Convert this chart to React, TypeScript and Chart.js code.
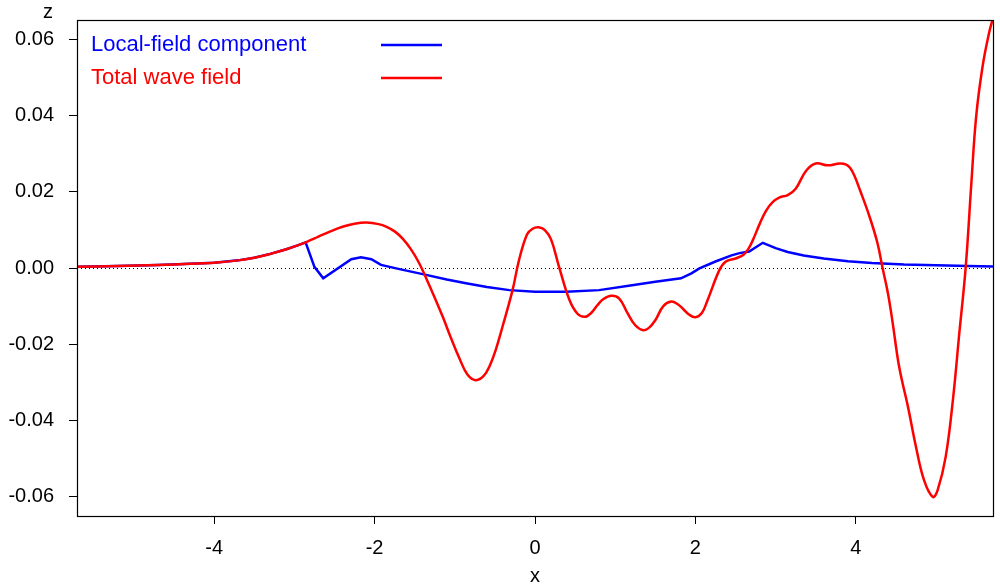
import React, { useEffect, useRef } from "react";
import { Chart, registerables } from "chart.js";

Chart.register(...registerables);

const xTicks = [-4, -2, 0, 2, 4];
const yTicks = [-0.06, -0.04, -0.02, 0, 0.02, 0.04, 0.06];

const seriesLabels = ["Local-field component", "Total wave field"];
const seriesColors = ["#0000ff", "#ff0000"];

const redX = [
  -5.71, -5.2, -4.7, -4.3, -4.0, -3.7, -3.5, -3.3, -3.1, -2.95, -2.85, -2.7, -2.55, -2.4, -2.25, -2.1,
  -1.95, -1.85, -1.75, -1.65, -1.55, -1.45, -1.35, -1.25, -1.15, -1.05, -0.94, -0.84, -0.74, -0.64,
  -0.56, -0.49, -0.4, -0.28, -0.2, -0.1, -0.03, 0.045, 0.12, 0.2, 0.3, 0.43, 0.53, 0.62, 0.7, 0.78,
  0.85, 0.95, 1.05, 1.15, 1.25, 1.35, 1.42, 1.5, 1.6, 1.7, 1.78, 1.85, 1.92, 2.0, 2.08, 2.15, 2.3, 2.38,
  2.5, 2.6, 2.66, 2.72, 2.8, 2.88, 2.96, 3.05, 3.15, 3.25, 3.38, 3.5, 3.65, 3.8, 3.88, 3.93, 3.98, 4.05,
  4.17, 4.27, 4.33, 4.4, 4.46, 4.54, 4.65, 4.75, 4.85, 4.96, 5.02, 5.12, 5.21, 5.29, 5.37, 5.44, 5.5,
  5.58, 5.66, 5.71,
];
const redY = [
  0.0003, 0.0005, 0.0008, 0.0011, 0.0014, 0.002, 0.0027, 0.0037, 0.0049, 0.006, 0.0068, 0.0082, 0.0096,
  0.0108, 0.0116, 0.0119, 0.0115, 0.0108, 0.0096, 0.0077, 0.005, 0.0015, -0.003, -0.0078, -0.0128,
  -0.0182, -0.0238, -0.028, -0.0294, -0.0283, -0.0254, -0.0215, -0.015, -0.0058, 0.002, 0.0088, 0.0103,
  0.0107, 0.01, 0.0075, 0.0003, -0.0084, -0.012, -0.0128, -0.0118, -0.0097, -0.0082, -0.0073, -0.008,
  -0.0117, -0.015, -0.0163, -0.0157, -0.0137, -0.01, -0.0088, -0.0095, -0.0108, -0.0122, -0.0129,
  -0.0118, -0.0085, -0.0005, 0.0017, 0.0025, 0.0035, 0.005, 0.0075, 0.0115, 0.015, 0.0172, 0.0185,
  0.0191, 0.0208, 0.0255, 0.0274, 0.0269, 0.0274, 0.0271, 0.0262, 0.0243, 0.0205, 0.0135, 0.0065, 0.0003,
  -0.0066, -0.0145, -0.0259, -0.0364, -0.0469, -0.0556, -0.06, -0.0582, -0.0495, -0.0346, -0.0171,
  0.0003, 0.0222, 0.0397, 0.0528, 0.0615, 0.0655,
];

const blueX = [
  -5.71, -5.2, -4.7, -4.3, -4.0, -3.7, -3.5, -3.3, -3.1, -2.95, -2.86, -2.75, -2.64, -2.29, -2.17, -2.04,
  -1.92, -1.69, -1.4, -1.1, -0.86, -0.6, -0.32, 0.0, 0.39, 0.8, 1.21, 1.5, 1.82, 1.95, 2.05, 2.25, 2.45,
  2.55, 2.67, 2.84, 3.0, 3.15, 3.35, 3.6, 3.9, 4.2, 4.6, 5.0, 5.4, 5.71,
];
const blueY = [
  0.0003, 0.0005, 0.0008, 0.0011, 0.0014, 0.002, 0.0027, 0.0037, 0.0049, 0.006, 0.0067, 0.0003, -0.0027,
  0.0023, 0.0028, 0.0023, 0.0008, -0.0003, -0.0016, -0.003, -0.004, -0.005, -0.0058, -0.0062, -0.0062,
  -0.0058, -0.0045, -0.0036, -0.0027, -0.0014, -0.0001, 0.0017, 0.0033, 0.0039, 0.0043, 0.0066, 0.0052,
  0.0042, 0.0033, 0.0025, 0.0018, 0.0013, 0.0009, 0.0007, 0.0005, 0.0004,
];

const FONT = "'Liberation Sans', Arial, Helvetica, sans-serif";

const decorPlugin = {
  id: "decor",
  beforeDatasetsDraw(chart: any) {
    const { ctx, chartArea: a, scales } = chart;
    const y0 = Math.round(scales.y.getPixelForValue(0)) + 0.5;
    ctx.save();
    ctx.strokeStyle = "#000";
    ctx.lineWidth = 1;
    ctx.setLineDash([1, 3]);
    ctx.beginPath();
    ctx.moveTo(a.left, y0);
    ctx.lineTo(a.right, y0);
    ctx.stroke();
    ctx.restore();
  },
  afterDatasetsDraw(chart: any) {
    const { ctx, chartArea: a } = chart;
    ctx.save();
    ctx.strokeStyle = "#000";
    ctx.lineWidth = 1.2;
    ctx.strokeRect(a.left + 0.5, a.top + 0.5, a.right - a.left, a.bottom - a.top);
    ctx.font = `22px ${FONT}`;
    ctx.textBaseline = "middle";
    ctx.textAlign = "left";
    const rows = [45, 78];
    seriesLabels.forEach((lab, i) => {
      ctx.fillStyle = seriesColors[i];
      ctx.fillText(lab, 91, rows[i]);
      ctx.strokeStyle = seriesColors[i];
      ctx.lineWidth = 2.5;
      ctx.beginPath();
      ctx.moveTo(381, rows[i]);
      ctx.lineTo(442, rows[i]);
      ctx.stroke();
    });
    ctx.fillStyle = "#000";
    ctx.font = `20px ${FONT}`;
    ctx.textAlign = "center";
    ctx.fillText("z", 48, 12);
    ctx.fillText("x", (a.left + a.right) / 2, 576);
    ctx.restore();
  },
};

export default function App() {
  const ref = useRef<HTMLCanvasElement>(null);
  useEffect(() => {
    if (!ref.current) return;
    const chart = new Chart(ref.current, {
      type: "line",
      data: {
        datasets: [
          {
            label: seriesLabels[0],
            data: blueX.map((x, i) => ({ x, y: blueY[i] })),
            borderColor: seriesColors[0],
            borderWidth: 2.5,
            pointRadius: 0,
            tension: 0,
            fill: false,
            order: 1,
          },
          {
            label: seriesLabels[1],
            data: redX.map((x, i) => ({ x, y: redY[i] })),
            borderColor: seriesColors[1],
            borderWidth: 2.5,
            pointRadius: 0,
            tension: 0.4,
            fill: false,
            order: 0,
          },
        ],
      },
      options: {
        animation: false,
        responsive: false,
        maintainAspectRatio: false,
        layout: { padding: { top: 20, right: 7, left: 0, bottom: 0 } },
        plugins: { legend: { display: false }, tooltip: { enabled: false } },
        scales: {
          x: {
            type: "linear",
            min: -5.71,
            max: 5.71,
            afterBuildTicks: (s: any) => {
              s.ticks = xTicks.map((v) => ({ value: v }));
            },
            afterFit: (s: any) => {
              s.height = 71;
              s.paddingLeft = 0;
              s.paddingRight = 0;
            },
            grid: { drawOnChartArea: false, drawTicks: true, tickLength: 8, color: "#000", lineWidth: 1 },
            border: { display: false },
            ticks: {
              color: "#000",
              font: { family: FONT, size: 20 },
              padding: 12,
              maxRotation: 0,
              callback: (v: any) => String(v),
            },
          },
          y: {
            type: "linear",
            min: -0.065,
            max: 0.065,
            afterBuildTicks: (s: any) => {
              s.ticks = yTicks.map((v) => ({ value: v }));
            },
            afterFit: (s: any) => {
              s.width = 77;
              s.paddingTop = 0;
              s.paddingBottom = 0;
            },
            grid: { drawOnChartArea: false, drawTicks: true, tickLength: 8, color: "#000", lineWidth: 1 },
            border: { display: false },
            ticks: {
              color: "#000",
              font: { family: FONT, size: 20 },
              padding: 15,
              callback: (v: any) => Number(v).toFixed(2),
            },
          },
        },
      },
      plugins: [decorPlugin],
    } as any);
    return () => chart.destroy();
  }, []);
  return (
    <div style={{ position: "fixed", left: 0, top: 0, width: 1000, height: 587, background: "#fff" }}>
      <canvas ref={ref} width={1000} height={587} style={{ display: "block" }} />
    </div>
  );
}
